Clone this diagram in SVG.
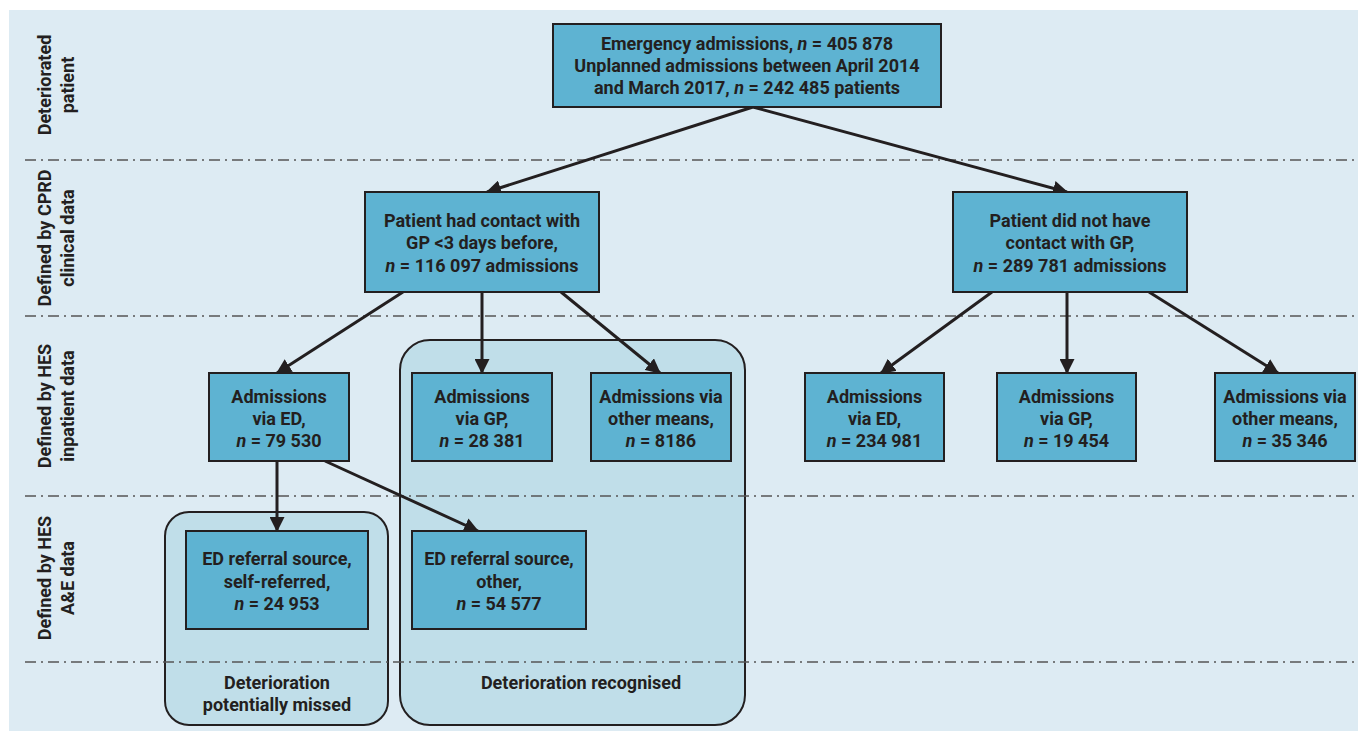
<svg xmlns="http://www.w3.org/2000/svg" width="1358" height="731" viewBox="0 0 1358 731">
<defs>
<style>
.t{font-family:Roboto,"Liberation Sans",sans-serif;font-weight:700;font-size:18px;fill:#231f20;text-anchor:middle}
.node{fill:#5eb3d2;stroke:#231f20;stroke-width:2}
.grp{fill:#c0dee9;stroke:#231f20;stroke-width:2}
.sep{stroke:#555;stroke-width:1.5;stroke-dasharray:11 5 2 5;fill:none}
.con{stroke:#231f20;stroke-width:3;fill:none;marker-end:url(#ah)}
</style>
<marker id="ah" viewBox="0 0 14 14" refX="13" refY="7" markerWidth="15" markerHeight="15" markerUnits="userSpaceOnUse" orient="auto">
<path d="M0,0 L14,7 L0,14 z" fill="#231f20"/>
</marker>
</defs>
<rect x="0" y="0" width="1358" height="731" fill="#ffffff"/>
<rect x="9" y="10" width="1349" height="721" fill="#ddebf3"/>

<g id="group-missed">
<rect class="grp" x="165" y="512" width="223" height="213" rx="24"/>
<text class="t"><tspan x="277" y="689">Deterioration</tspan><tspan x="277" y="711">potentially missed</tspan></text>
</g>
<g id="group-recognised">
<rect class="grp" x="400" y="340" width="345" height="385" rx="30"/>
<text class="t" x="581" y="689">Deterioration recognised</text>
</g>

<g id="separators">
<line class="sep" x1="25" y1="160" x2="1358" y2="160"/>
<line class="sep" x1="25" y1="316" x2="1358" y2="316"/>
<line class="sep" x1="25" y1="496" x2="1358" y2="496"/>
<line class="sep" x1="25" y1="662" x2="1358" y2="662"/>
</g>

<g id="row-labels">
<text class="t" transform="translate(0,85) rotate(-90)"><tspan x="0" y="51">Deteriorated</tspan><tspan x="0" y="74">patient</tspan></text>
<text class="t" transform="translate(0,238) rotate(-90)"><tspan x="0" y="51">Defined by CPRD</tspan><tspan x="0" y="74">clinical data</tspan></text>
<text class="t" transform="translate(0,406) rotate(-90)"><tspan x="0" y="51">Defined by HES</tspan><tspan x="0" y="74">inpatient data</tspan></text>
<text class="t" transform="translate(0,578) rotate(-90)"><tspan x="0" y="51">Defined by HES</tspan><tspan x="0" y="74">A&amp;E data</tspan></text>
</g>

<g id="connectors">
<line class="con" x1="753" y1="107" x2="487" y2="192"/>
<line class="con" x1="753" y1="107" x2="1067" y2="192"/>
<line class="con" x1="403" y1="292" x2="277" y2="373"/>
<line class="con" x1="482" y1="292" x2="482" y2="373"/>
<line class="con" x1="561" y1="292" x2="660" y2="373"/>
<line class="con" x1="992" y1="292" x2="881" y2="373"/>
<line class="con" x1="1067" y1="292" x2="1067" y2="373"/>
<line class="con" x1="1149" y1="292" x2="1278" y2="373"/>
<line class="con" x1="277" y1="461" x2="277" y2="531"/>
<line class="con" x1="325" y1="461" x2="478" y2="531"/>
</g>

<g id="n-top">
<rect class="node" x="553" y="24" width="388" height="83"/>
<text class="t"><tspan x="747" y="50">Emergency admissions, <tspan font-style="italic">n</tspan> = 405 878</tspan><tspan x="747" y="72">Unplanned admissions between April 2014</tspan><tspan x="747" y="94">and March 2017, <tspan font-style="italic">n</tspan> = 242 485 patients</tspan></text>
</g>
<g id="n-contact">
<rect class="node" x="365" y="192" width="234" height="100"/>
<text class="t"><tspan x="482" y="227">Patient had contact with</tspan><tspan x="482" y="249">GP &lt;3 days before,</tspan><tspan x="482" y="272"><tspan font-style="italic">n</tspan> = 116 097 admissions</tspan></text>
</g>
<g id="n-nocontact">
<rect class="node" x="953" y="192" width="234" height="100"/>
<text class="t"><tspan x="1070" y="227">Patient did not have</tspan><tspan x="1070" y="249">contact with GP,</tspan><tspan x="1070" y="272"><tspan font-style="italic">n</tspan> = 289 781 admissions</tspan></text>
</g>
<g id="n-ed1">
<rect class="node" x="209" y="373" width="140" height="88"/>
<text class="t"><tspan x="279" y="403">Admissions</tspan><tspan x="279" y="425">via ED,</tspan><tspan x="279" y="447"><tspan font-style="italic">n</tspan> = 79 530</tspan></text>
</g>
<g id="n-gp1">
<rect class="node" x="412" y="373" width="140" height="88"/>
<text class="t"><tspan x="482" y="403">Admissions</tspan><tspan x="482" y="425">via GP,</tspan><tspan x="482" y="447"><tspan font-style="italic">n</tspan> = 28 381</tspan></text>
</g>
<g id="n-other1">
<rect class="node" x="591" y="373" width="140" height="88"/>
<text class="t"><tspan x="661" y="403">Admissions via</tspan><tspan x="661" y="425">other means,</tspan><tspan x="661" y="447"><tspan font-style="italic">n</tspan> = 8186</tspan></text>
</g>
<g id="n-ed2">
<rect class="node" x="805" y="373" width="139" height="88"/>
<text class="t"><tspan x="874.5" y="403">Admissions</tspan><tspan x="874.5" y="425">via ED,</tspan><tspan x="874.5" y="447"><tspan font-style="italic">n</tspan> = 234 981</tspan></text>
</g>
<g id="n-gp2">
<rect class="node" x="997" y="373" width="139" height="88"/>
<text class="t"><tspan x="1066.5" y="403">Admissions</tspan><tspan x="1066.5" y="425">via GP,</tspan><tspan x="1066.5" y="447"><tspan font-style="italic">n</tspan> = 19 454</tspan></text>
</g>
<g id="n-other2">
<rect class="node" x="1215" y="373" width="140" height="88"/>
<text class="t"><tspan x="1285" y="403">Admissions via</tspan><tspan x="1285" y="425">other means,</tspan><tspan x="1285" y="447"><tspan font-style="italic">n</tspan> = 35 346</tspan></text>
</g>
<g id="n-self">
<rect class="node" x="186" y="531" width="182" height="98"/>
<text class="t"><tspan x="277" y="565">ED referral source,</tspan><tspan x="277" y="588">self-referred,</tspan><tspan x="277" y="610"><tspan font-style="italic">n</tspan> = 24 953</tspan></text>
</g>
<g id="n-refother">
<rect class="node" x="412" y="531" width="174" height="98"/>
<text class="t"><tspan x="499" y="565">ED referral source,</tspan><tspan x="499" y="588">other,</tspan><tspan x="499" y="610"><tspan font-style="italic">n</tspan> = 54 577</tspan></text>
</g>
</svg>
